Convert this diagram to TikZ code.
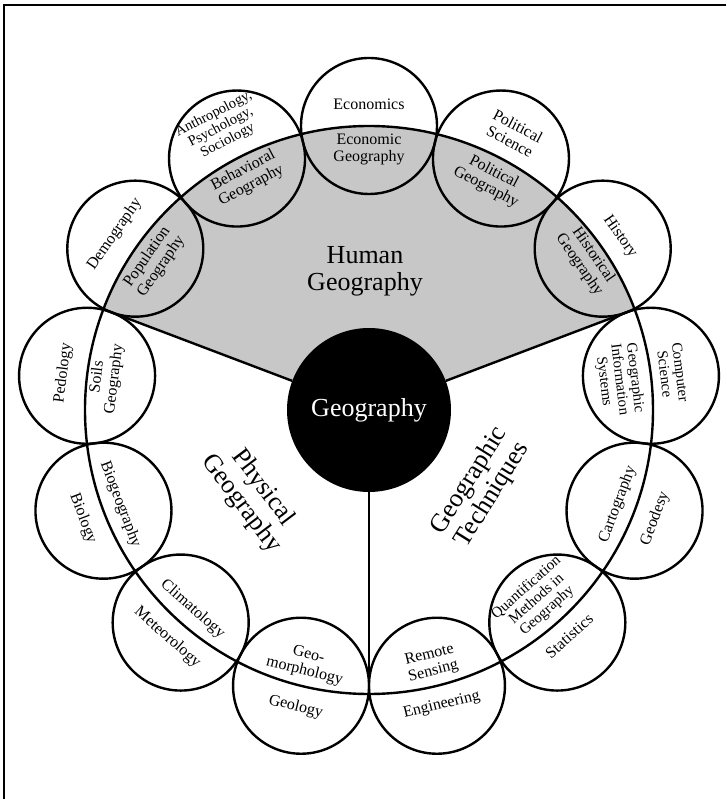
\documentclass[tikz,border=0pt]{standalone}
\usepackage{fontspec}
\setmainfont{Liberation Serif}
\begin{document}
\begin{tikzpicture}[x=1pt,y=1pt,
  ring/.style={line width=2.4pt},
  framel/.style={line width=1.8pt},
  hgfill/.style={fill=black!22},
  disc/.style={circle,draw,line width=2.4pt,minimum size=136pt,inner sep=0pt},
  hub/.style={circle,fill=black,minimum size=164pt,inner sep=0pt,text=white,font=\fontsize{26}{27}\selectfont},
  lbl/.style={align=center,inner sep=0pt,font=\fontsize{16}{17}\selectfont},
  lbls/.style={align=center,inner sep=0pt,font=\fontsize{15}{15.5}\selectfont},
  big/.style={align=center,inner sep=0pt,font=\fontsize{26}{27}\selectfont}]
\useasboundingbox (-369,-389) rectangle (357,410);
% partial frame of the scan
\coordinate (ftl) at (-365,405);
\coordinate (ftr) at (357,405);
\coordinate (fbl) at (-365,-389);
\draw[framel] (ftr) -- (ftl) -- (fbl);
\coordinate (O) at (0,0);
% shaded Human Geography sector
\fill[hgfill] (O) -- (20.77:284) arc[start angle=20.77,end angle=159.23,radius=284] -- cycle;
% the ring
\draw[ring] (O) circle[radius=284];
% centre
\node[hub] (geo) at (O) {Geography};
\coordinate (pL) at (159.23:284);
\coordinate (pR) at (20.77:284);
\coordinate (pB) at (-90:284);
\draw[ring] (geo) -- (pL);
\draw[ring] (geo) -- (pR);
\draw[ring] (geo) -- (pB);
% the thirteen circles
\foreach \i in {0,...,12}{
  \pgfmathsetmacro{\ang}{90-\i*360/13}
  \node[disc] (c\i) at (\ang:284) {};
}
% sector labels
\node[big] (hum) at (-4,139) {Human\\Geography};
\node[big,rotate=-53] (phys) at (-117,-86) {Physical\\Geography};
\node[big,rotate=58] (tech) at (112,-78) {Geographic\\Techniques};
% circle labels
\node[lbl] (o0) at (90:306) {Economics};
\node[lbl] (i0) at (90:261) {Economic\\Geography};
\node[lbl,rotate=-27.69] (o1) at (62.31:312) {Political\\Science};
\node[lbl,rotate=-27.69] (i1) at (62.31:260) {Political\\Geography};
\node[lbl,rotate=-55.38] (o2) at (34.62:305) {History};
\node[lbl,rotate=-55.38] (i2) at (34.62:264) {Historical\\Geography};
\node[lbls,rotate=-83.08] (o3) at (6.92:306) {Computer\\Science};
\node[lbls,rotate=-83.08] (i3) at (6.92:252) {Geographic\\Information\\Systems};
\node[lbl,rotate=69.23] (o4) at (-20.77:306) {Geodesy};
\node[lbl,rotate=69.23] (i4) at (-20.77:266) {Cartography};
\node[lbl,rotate=41.54] (o5) at (-48.46:302) {Statistics};
\node[lbls,rotate=41.54] (i5) at (-48.46:253) {Quantification\\Methods in\\Geography};
\node[lbl,rotate=13.85] (o6) at (-76.15:304) {Engineering};
\node[lbl,rotate=13.85] (i6) at (-76.15:261) {Remote\\Sensing};
\node[lbl,rotate=-13.85] (o7) at (-103.85:306) {Geology};
\node[lbl,rotate=-13.85] (i7) at (-103.85:261) {Geo-\\morphology};
\node[lbl,rotate=-41.54] (o8) at (-131.54:304) {Meteorology};
\node[lbl,rotate=-41.54] (i8) at (-131.54:266) {Climatology};
\node[lbl,rotate=-69.23] (o9) at (-159.23:306) {Biology};
\node[lbl,rotate=-69.23] (i9) at (-159.23:266) {Biogeography};
\node[lbl,rotate=83.08] (o10) at (173.08:308) {Pedology};
\node[lbl,rotate=83.08] (i10) at (173.08:265) {Soils\\Geography};
\node[lbl,rotate=55.38] (o11) at (145.38:309) {Demography};
\node[lbl,rotate=55.38] (i11) at (145.38:261) {Population\\Geography};
\node[lbls,rotate=27.69,font=\fontsize{14.5}{15}\selectfont] (o12) at (117.69:319) {Anthropology,\\Psychology,\\Sociology};
\node[lbl,rotate=27.69] (i12) at (117.69:262) {Behavioral\\Geography};
\end{tikzpicture}
\end{document}
